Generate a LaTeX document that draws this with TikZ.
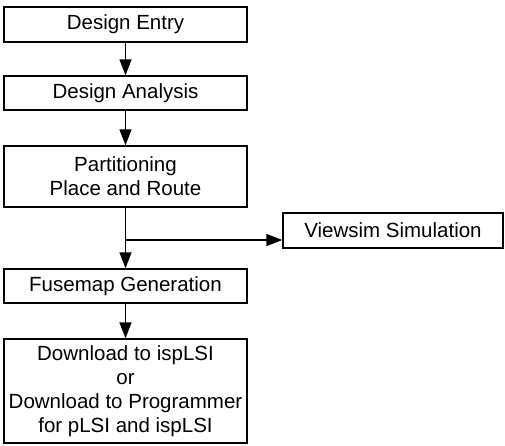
\documentclass[tikz,border=0pt]{standalone}
\usepackage{fontspec}
\setmainfont{Liberation Sans}
\usetikzlibrary{arrows.meta}
\begin{document}
\begin{tikzpicture}[x=1pt,y=1pt,
  box/.style={draw, line width=1.4pt, inner sep=0pt, minimum width=243pt, align=center,
    font=\fontsize{20.5}{24}\selectfont},
  arr/.style={line width=1.4pt, -{Triangle[length=16pt,width=12pt]}},
  ln/.style={line width=1.4pt}]
\useasboundingbox (0,0) rectangle (505,-445);
\node[box, minimum height=35pt] (de) at (125.5,-24.5) {Design Entry};
\node[box, minimum height=34pt] (da) at (125.5,-93) {Design Analysis};
\node[box, minimum height=61pt] (pr) at (125.5,-176.5) {Partitioning\\Place and Route};
\node[box, minimum height=35pt, minimum width=220pt] (vs) at (393,-230.5) {Viewsim Simulation};
\node[box, minimum height=34pt] (fg) at (125.5,-286) {Fusemap Generation};
\node[box, minimum height=104pt] (dl) at (125.5,-391) {Download to ispLSI\\or\\Download to Programmer\\for pLSI and ispLSI};
\coordinate (j) at (125.5,-240);
\draw[arr] (de) -- (da);
\draw[arr] (da) -- (pr);
\draw[ln] (pr) -- (j);
\draw[arr] (j) -- (fg);
\draw[arr] (j) -- (vs.west |- j);
\draw[arr] (fg) -- (dl);
\end{tikzpicture}
\end{document}
